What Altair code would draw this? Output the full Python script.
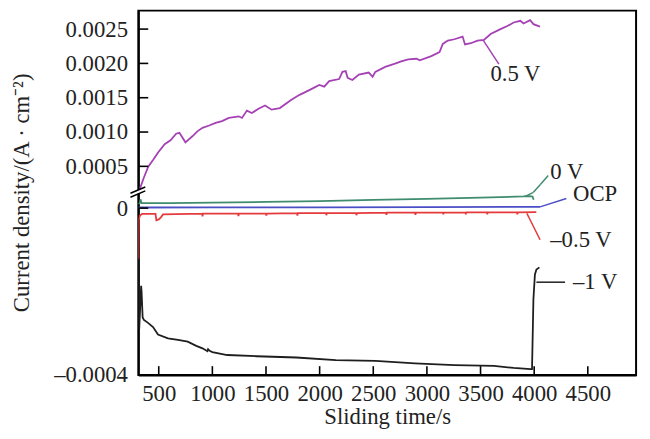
import altair as alt
import pandas as pd

# ---------------- data ----------------
series_names = ["0.5 V", "0 V", "OCP", "-0.5 V", "-1 V"]
series_colors = ["#a541b5", "#3f8c6f", "#4b4fc6", "#e53a3c", "#1e1e1e"]

purple_t = [325, 360, 402, 450, 494, 555, 610, 662, 693, 749, 816, 860, 908, 970, 1030, 1090, 1154,
            1246, 1276, 1322, 1368, 1430, 1491, 1552, 1629, 1737, 1813, 1875, 1940, 1997, 2043,
            2089, 2181, 2213, 2243, 2261, 2305, 2366, 2458, 2494, 2519, 2611, 2703, 2760, 2826,
            2903, 2934, 3041, 3118, 3148, 3195, 3256, 3333, 3355, 3410, 3471, 3532, 3594, 3686,
            3750, 3809, 3871, 3901, 3962, 3993, 4054]
purple_v = [0.000175, 0.000330, 0.000496, 0.000600, 0.000701, 0.000822, 0.000880, 0.000975,
            0.000988, 0.000850, 0.000942, 0.001010, 0.001061, 0.001095, 0.001133, 0.001160,
            0.001205, 0.001229, 0.001205, 0.001312, 0.001277, 0.001340, 0.001388, 0.001326,
            0.001349, 0.001470, 0.001542, 0.001589, 0.001640, 0.001686, 0.001661, 0.001743,
            0.001772, 0.001877, 0.001887, 0.001791, 0.001758, 0.001838, 0.001867, 0.001805,
            0.001877, 0.001949, 0.001996, 0.002030, 0.002060, 0.002068, 0.002045, 0.002107,
            0.002165, 0.002284, 0.002333, 0.002352, 0.002391, 0.002276, 0.002294, 0.002333,
            0.002342, 0.002428, 0.002500, 0.002545, 0.002596, 0.002621, 0.002582, 0.002630,
            0.002572, 0.002535]

green_t = [310, 322, 330, 340, 360, 600, 1000, 1500, 2000, 2500, 3000, 3500, 3900, 3960, 3985, 3995]
green_v = [0.000010, 0.000012, 0.000021, 0.000012, 0.000012, 0.000012, 0.000013, 0.000015,
           0.000017, 0.000020, 0.000022, 0.000025, 0.000028, 0.000029, 0.000028, 0.000020]

blue_t = [310, 1000, 2000, 3000, 4000, 4055]
blue_v = [0.0000015, 0.0000017, 0.0000020, 0.0000025, 0.0000030, 0.0000030]

red_t = [310, 313, 325, 345, 470, 478, 500, 520, 540, 905, 908, 912, 1240, 1243, 1247, 1500,
         1503, 1507, 1790, 1793, 1797, 2060, 2063, 2067, 2340, 2343, 2347, 2620, 2623, 2627,
         2890, 2893, 2897, 3150, 3153, 3157, 3360, 3363, 3367, 3560, 3563, 3567, 3840, 3843,
         3847, 4020]
red_v = [-0.000123, -0.000028, -0.000018, -0.000014, -0.000014, -0.000029, -0.000027, -0.000022,
         -0.000015, -0.000013, -0.000020, -0.000013, -0.000013, -0.000019, -0.000013, -0.000013,
         -0.000018, -0.000013, -0.000012, -0.000018, -0.000012, -0.000012, -0.000017, -0.000012,
         -0.000012, -0.000017, -0.000012, -0.000011, -0.000016, -0.000011, -0.000011, -0.000016,
         -0.000011, -0.000011, -0.000015, -0.000011, -0.000010, -0.000015, -0.000010, -0.000010,
         -0.000015, -0.000010, -0.000010, -0.000015, -0.000010, -0.0000095]

black_t = [310, 318, 336, 340, 350, 362, 400, 447, 493, 586, 680, 770, 850, 908, 954, 960, 975,
           1000, 1138, 1414, 1783, 2151, 2520, 2888, 3257, 3625, 3809, 3966, 3980, 3993, 4007,
           4021, 4049]
black_v = [-0.000120, -0.000290, -0.000186, -0.000200, -0.000262, -0.000268, -0.000275, -0.000285,
           -0.000303, -0.000312, -0.000316, -0.000320, -0.000330, -0.000336, -0.000343, -0.000338,
           -0.000342, -0.000345, -0.000352, -0.000355, -0.000358, -0.000364, -0.000366, -0.000372,
           -0.000376, -0.000378, -0.000383, -0.000386, -0.000386, -0.000218, -0.000159, -0.000147,
           -0.000142]

x_ticks = [500, 1000, 1500, 2000, 2500, 3000, 3500, 4000, 4500]
y_ticks = [-0.0004, 0, 0.0005, 0.0010, 0.0015, 0.0020, 0.0025]

# curve labels and their leader lines (data coordinates)
label_texts = ["0.5 V", "0 V", "OCP", "–0.5 V", "–1 V"]
label_t = [3825, 4150, 4362, 4150, 4362]
label_v = [0.001848, 0.000410, 0.000059, -0.0000757, -0.0001775]
label_align = ["center", "left", "left", "left", "left"]

leader_series = ["0.5 V", "0 V", "0 V", "0 V", "OCP", "-0.5 V", "-1 V"]
leader_t1 = [3524, 3917, 3993, 4058, 4055, 3932, 4021]
leader_v1 = [0.002338, 0.000028, 0.000105, 0.000237, 0.000003, -0.0000125, -0.0001775]
leader_t2 = [3671, 3993, 4058, 4131, 4300, 4055, 4288]
leader_v2 = [0.001990, 0.000105, 0.000237, 0.000366, 0.000023, -0.0000757, -0.0001775]

# ---------------- tables ----------------
rows = []
for name, ts, vs in zip(series_names,
                        [purple_t, green_t, blue_t, red_t, black_t],
                        [purple_v, green_v, blue_v, red_v, black_v]):
    for t, v in zip(ts, vs):
        rows.append({"series": name, "t": t, "v": v})
df = pd.DataFrame(rows)

labels_df = pd.DataFrame({"text": label_texts, "t": label_t, "v": label_v, "align": label_align})
leaders_df = pd.DataFrame({"series": leader_series, "t": leader_t1, "v": leader_v1,
                           "t2": leader_t2, "v2": leader_v2})
xt_df = pd.DataFrame({"t": x_ticks})
yt_df = pd.DataFrame({"v": [y for y in y_ticks if y > -0.0004]})

# ---------------- scales / axes ----------------
FONT = "Liberation Serif"
W, H = 504, 369

x_scale = alt.Scale(domain=[310, 4950], nice=False, zero=False)
# broken axis: piecewise linear scale
y_scale = alt.Scale(domain=[-0.0004, 0.00003, 0.00015, 0.002769],
                    range=[H, 187.3, 182, 0], nice=False, zero=False)
color_scale = alt.Scale(domain=series_names, range=series_colors)

x_axis = alt.Axis(values=x_ticks, title="Sliding time/s", ticks=False, grid=False,
                  labelPadding=8, format="d", labelFlush=False,
                  titleX=W / 2, titleY=49, titleBaseline="alphabetic", titleAlign="center")
y_axis = alt.Axis(values=y_ticks, title="Current density/(A · cm⁻²)", ticks=False, grid=False,
                  labelPadding=11, labelFlush=False,
                  labelExpr="datum.value == 0 ? '0' : (datum.value < 0 ? '–' + format(-datum.value, '.4f') : format(datum.value, '.4f'))",
                  titleX=-111, titleY=184, titleBaseline="alphabetic", titleAlign="center")

X = alt.X("t:Q", scale=x_scale, axis=x_axis)
Y = alt.Y("v:Q", scale=y_scale, axis=y_axis)
C = alt.Color("series:N", scale=color_scale, legend=None)

lines = alt.Chart(df).mark_line(strokeWidth=1.8, clip=True).encode(
    x=X, y=Y, color=C, detail="series:N", order="t:Q")

leaders = alt.Chart(leaders_df).mark_rule(strokeWidth=1.5).encode(
    x=X, y=Y, x2="t2:Q", y2="v2:Q", color=C)

labels_c = alt.Chart(labels_df).transform_filter("datum.align == 'center'").mark_text(
    font=FONT, fontSize=23, color="#222", baseline="middle", align="center").encode(
    x=X, y=Y, text="text:N")
labels_l = alt.Chart(labels_df).transform_filter("datum.align == 'left'").mark_text(
    font=FONT, fontSize=23, color="#222", baseline="middle", align="left").encode(
    x=X, y=Y, text="text:N")

xticks = alt.Chart(xt_df).mark_rule(color="black", strokeWidth=1.6).encode(
    x=X, y=alt.value(H), y2=alt.value(H - 9))
yticks = alt.Chart(yt_df).mark_rule(color="black", strokeWidth=1.6).encode(
    y=Y, x=alt.value(0), x2=alt.value(10))

# axis-break marks
gap = alt.Chart(xt_df.head(1)).mark_rule(color="white", strokeWidth=5).encode(
    x=alt.value(0), y=alt.value(181.5), y2=alt.value(185.5))
slash1 = alt.Chart(xt_df.head(1)).mark_rule(color="black", strokeWidth=1.6).encode(
    x=alt.value(-8), x2=alt.value(7), y=alt.value(189), y2=alt.value(182.5))
slash2 = alt.Chart(xt_df.head(1)).mark_rule(color="black", strokeWidth=1.6).encode(
    x=alt.value(-8), x2=alt.value(7), y=alt.value(185), y2=alt.value(178.5))

chart = alt.layer(lines, leaders, labels_c, labels_l, xticks, yticks, gap, slash1, slash2).properties(
    width=W, height=H,
    autosize=alt.AutoSizeParams(type="none"),
    padding={"left": 132, "top": 0, "right": 6, "bottom": 54},
    background="white",
).configure_view(stroke="black", strokeWidth=2).configure_axis(
    domainColor="black", domainWidth=2,
    labelFont=FONT, labelFontSize=23, labelColor="#222",
    titleFont=FONT, titleFontSize=23, titleColor="#222", titleFontWeight="normal",
)

chart.save("out.html", embed_options={"renderer": "svg", "actions": False})
